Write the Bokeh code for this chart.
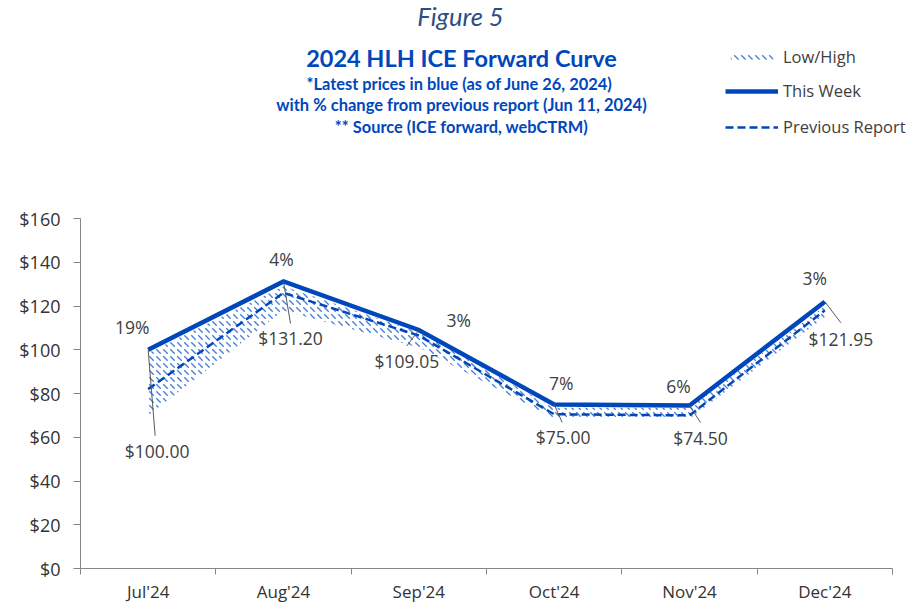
from bokeh.plotting import figure
from bokeh.layouts import column, row
from bokeh.models import (ColumnDataSource, FixedTicker, NumeralTickFormatter, Range1d,
                          Label, Legend, LegendItem, LabelSet)
from bokeh.embed import file_html
from bokeh.resources import INLINE
from bokeh.core.properties import value

# ---------------- data ----------------
months = ["Jul'24", "Aug'24", "Sep'24", "Oct'24", "Nov'24", "Dec'24"]
this_week = [100.00, 131.20, 109.05, 75.00, 74.50, 121.95]
previous_report = [82.0, 126.0, 106.5, 70.5, 70.0, 118.0]
low_price = [70.0, 118.0, 101.0, 68.5, 68.5, 115.0]
high_price = [98.5, 129.0, 108.0, 73.5, 73.5, 120.0]
pct_change = ["19%", "4%", "3%", "7%", "6%", "3%"]
price_labels = ["$100.00", "$131.20", "$109.05", "$75.00", "$74.50", "$121.95"]
y_ticks = [0, 20, 40, 60, 80, 100, 120, 140, 160]

# ---------------- layout / style ----------------
W, H = 917, 606
TOP_H = 200                                # header figure height
FL, FR, FT, FB = 80, 25, 18, 38            # chart frame borders
H2 = H - TOP_H
frame_w = W - FL - FR
frame_h = H2 - FT - FB
n = len(months)
px_x = frame_w / n
px_y = frame_h / 160.0

BLUE = "#0047BB"
HATCH = "#2F6FD3"
TXT = "#404040"
AX = "#868686"
FONT = "Open Sans"
TFONT = "Lato"

# label offsets in pixels (dx right, dy down)
pct_dx = [-16, -2, 40, 7, -11, -10]
pct_dy = [-23, -23, -10, -21, -20, -24]
val_dx = [9, 7, -12, 9, 11, 16]
val_dy = [101, 56, 31, 33, 32, 37]
lead_dx = [7, 7, -12, 8, 11, 16]
lead_dy = [86, 42, 16, 18, 17, 21]

xs = [i + 0.5 for i in range(n)]

src = ColumnDataSource(dict(
    x=xs, this=this_week, prev=previous_report, low=low_price, high=high_price,
    pct=pct_change, val=price_labels,
    pdx=pct_dx, pdy=[-d for d in pct_dy],
    vdx=val_dx, vdy=[-d for d in val_dy],
    lx1=[x + dx / px_x for x, dx in zip(xs, lead_dx)],
    ly1=[y - dy / px_y for y, dy in zip(this_week, lead_dy)],
))

band_style = dict(fill_alpha=0, hatch_pattern="left_diagonal_dash", hatch_color=HATCH,
                  hatch_scale=7, hatch_weight=1.4, hatch_alpha=0.9)
prev_style = dict(line_color=BLUE, line_width=2.5, line_dash="8 4")
cur_style = dict(line_color=BLUE, line_width=4.5, line_join="miter")

# ---------------- header figure (titles + legend) ----------------
top = figure(width=W, height=TOP_H, output_backend="svg", toolbar_location=None,
             x_range=Range1d(0, 1), y_range=Range1d(0, 1),
             x_axis_location=None, y_axis_location=None,
             min_border_left=0, min_border_right=0, min_border_top=0, min_border_bottom=0)
top.outline_line_color = None
top.grid.visible = False

def title_label(text, X, Y, size, style, color, font=TFONT):
    top.add_layout(Label(x=X, y=TOP_H - Y, x_units="screen", y_units="screen",
                         text=text, text_align="center", text_baseline="middle",
                         text_font=font, text_font_size=size, text_font_style=style,
                         text_color=color))

title_label("Figure 5", 460, 15, "25.5px", "italic", "#2A4F85")
title_label("2024 HLH ICE Forward Curve", 461, 57, "23.5px", "bold", BLUE)
title_label("*Latest prices in blue (as of June 26, 2024)", 459, 83, "16.4px", "bold", BLUE)
title_label("with % change from previous report (Jun 11, 2024)", 461, 104, "16.5px", "bold", BLUE)
title_label("** Source (ICE forward, webCTRM)", 461, 126, "16.4px", "bold", BLUE)

nan = float("nan")
dummy = ColumnDataSource(dict(x=[nan, nan], y=[nan, nan], y1=[nan, nan], y2=[nan, nan]))
lg_band = top.varea(x="x", y1="y1", y2="y2", source=dummy, **band_style)
lg_cur = top.line("x", "y", source=dummy, **cur_style)
lg_prev = top.line("x", "y", source=dummy, **prev_style)

legend_style = dict(padding=0, margin=0, spacing=13, glyph_width=53, label_height=20,
                    label_standoff=5, border_line_alpha=0, background_fill_alpha=0,
                    label_text_font=FONT, label_text_font_size="16.5px", label_text_color=TXT)

legend_band = Legend(items=[LegendItem(label="Low/High", renderers=[lg_band])],
                     location=(725, TOP_H - 68), glyph_height=7, **legend_style)
legend_lines = Legend(items=[LegendItem(label="This Week", renderers=[lg_cur]),
                             LegendItem(label="Previous Report", renderers=[lg_prev])],
                      location=(725, TOP_H - 138), glyph_height=20, **legend_style)
top.add_layout(legend_band, "center")
top.add_layout(legend_lines, "center")

# ---------------- chart figure ----------------
p = figure(width=W, height=H2, output_backend="svg", toolbar_location=None,
           x_range=Range1d(0, n), y_range=Range1d(0, 160),
           min_border_left=FL, min_border_right=FR, min_border_top=FT, min_border_bottom=FB)
p.outline_line_color = None
p.xgrid.visible = False
p.ygrid.visible = False

p.varea(x="x", y1="low", y2="high", source=src, **band_style)
p.line("x", "prev", source=src, **prev_style)
p.line("x", "this", source=src, **cur_style)

p.segment(x0="x", y0="this", x1="lx1", y1="ly1", source=src, line_color="#595959", line_width=1)

p.add_layout(LabelSet(x="x", y="this", text="pct", source=src, x_offset="pdx", y_offset="pdy",
                      text_align="center", text_baseline="middle", text_font=value(FONT),
                      text_font_size="17.5px", text_color=TXT))
p.add_layout(LabelSet(x="x", y="this", text="val", source=src, x_offset="vdx", y_offset="vdy",
                      text_align="center", text_baseline="middle", text_font=value(FONT),
                      text_font_size="17.5px", text_color=TXT))

# axes
p.xaxis.ticker = FixedTicker(ticks=xs, minor_ticks=list(range(n + 1)))
p.xaxis.major_label_overrides = {x: m for x, m in zip(xs, months)}
p.xaxis.major_tick_out = 0
p.xaxis.major_tick_in = 0
p.xaxis.minor_tick_out = 6
p.xaxis.minor_tick_in = 0
p.xaxis.major_label_standoff = 5
p.yaxis.ticker = FixedTicker(ticks=y_ticks)
p.yaxis.formatter = NumeralTickFormatter(format="$0")
p.yaxis.major_tick_out = 7
p.yaxis.major_tick_in = 0
p.yaxis.minor_tick_line_color = None
p.yaxis.major_label_standoff = 13
for ax in (p.xaxis, p.yaxis):
    ax.axis_line_color = AX
    ax.major_tick_line_color = AX
    ax.major_label_text_font = FONT
    ax.major_label_text_font_size = "18px"
    ax.major_label_text_color = "#333333"
p.xaxis.minor_tick_line_color = AX
p.xaxis.major_label_text_font_size = "17px"

layout = column(row(top), p, spacing=0)
open("out.html", "w").write(file_html(layout, INLINE))
